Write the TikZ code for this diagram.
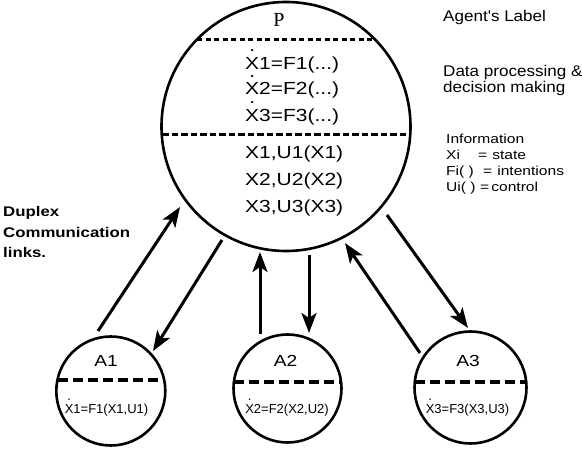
\documentclass[tikz,border=0pt]{standalone}
\usepackage{fontspec}
\setmainfont{Liberation Sans}
\newfontfamily\wide{Liberation Sans}[FakeStretch=1.2]
\newfontfamily\widea{Liberation Sans}[FakeStretch=1.1]
\newfontfamily\serifP{Liberation Serif}
\usetikzlibrary{arrows.meta}
\newcommand\dX{\leavevmode\ooalign{X\cr\hidewidth\smash{\raisebox{1.0em}{.}}\hidewidth\cr}}
\tikzset{
  agent/.style={circle, draw, line width=2.6pt, inner sep=0pt},
  link/.style={line width=3pt, -{Stealth[length=20pt,width=15pt,inset=5pt]}},
  txt/.style={inner sep=0pt, anchor=base west},
  ctxt/.style={inner sep=0pt, anchor=base},
  bigf/.style={font=\wide\fontsize{17.5}{20}\selectfont},
  smallf/.style={font=\fontsize{13}{15}\selectfont},
  labf/.style={font=\wide\fontsize{16}{18}\selectfont},
  notef/.style={font=\widea\fontsize{15.5}{17}\selectfont},
  infof/.style={font=\wide\fontsize{13}{15}\selectfont},
  boldf/.style={font=\wide\bfseries\fontsize{14}{16}\selectfont},
  chord/.style={line width=3pt, dash pattern=on 5pt off 3.5pt},
  chordb/.style={line width=3pt, dash pattern=on 6.5pt off 3pt},
  chordc/.style={line width=3.5pt, dash pattern=on 10pt off 5pt},
}
\begin{document}
\begin{tikzpicture}[x=1pt,y=-1pt]
\useasboundingbox (0,0) rectangle (582,454);
\fill[white] (0,0) rectangle (582,454);

% circles
\node[agent, minimum size=249pt] (P) at (286,126.5) {};
\node[agent, minimum size=109pt] (A1) at (110.8,391) {};
\node[agent, minimum size=108pt] (A2) at (287.5,388.5) {};
\node[agent, minimum size=112pt] (A3) at (470.5,387.5) {};

% chords
\draw[chord] (197,40) -- (372,40);
\draw[chordb] (162,135) -- (410,135);
\draw[chordc] (57.5,380) -- (164,380);
\draw[chordc] (234,382) -- (341,382);
\draw[chordc] (415,382) -- (526,382);

% P texts
\node[ctxt, font=\serifP\fontsize{20}{22}\selectfont] (lp) at (279,27) {P};
\node[txt, bigf] (f1) at (245,69.5) {\dX1=F1(...)};
\node[txt, bigf] (f2) at (245,95) {\dX2=F2(...)};
\node[txt, bigf] (f3) at (245,121.5) {\dX3=F3(...)};
\node[txt, bigf] (u1) at (245,159) {X1,U1(X1)};
\node[txt, bigf] (u2) at (245,186) {X2,U2(X2)};
\node[txt, bigf] (u3) at (245,213) {X3,U3(X3)};

% agent texts
\node[ctxt, labf] (l1) at (106,366.5) {A1};
\node[ctxt, labf] (l2) at (285.5,366.5) {A2};
\node[ctxt, labf] (l3) at (468,366.5) {A3};
\node[ctxt, smallf] (s1) at (106.5,414) {\dX1=F1(X1,U1)};
\node[ctxt, smallf] (s2) at (287,414) {\dX2=F2(X2,U2)};
\node[ctxt, smallf] (s3) at (467.5,414) {\dX3=F3(X3,U3)};

% right notes
\node[txt, notef] (n1) at (443,22) {Agent's Label};
\node[txt, notef] (n2) at (443,77) {Data processing \&};
\node[txt, notef] (n3) at (443,93) {decision making};
\node[txt, infof] (i0) at (446,144) {Information};
\node[txt, infof] (i1) at (446,160) {\makebox[32pt][l]{Xi}=\hspace{5pt}state};
\node[txt, infof] (i2) at (446,176) {\makebox[37pt][l]{Fi(\ )}=\hspace{5pt}intentions};
\node[txt, infof] (i3) at (446,192) {\makebox[34pt][l]{Ui(\ )}=\hspace{2pt}control};

% left note
\node[txt, boldf] (d1) at (3,217) {Duplex};
\node[txt, boldf] (d2) at (3,238) {Communication};
\node[txt, boldf] (d3) at (3,258) {links.};

% link ends
\coordinate (a1s) at (98,331);  \coordinate (a1e) at (180,207);
\coordinate (a2s) at (222,240); \coordinate (a2e) at (153,351);
\coordinate (a3s) at (260,334); \coordinate (a3e) at (260,252);
\coordinate (a4s) at (309,255); \coordinate (a4e) at (309,333);
\coordinate (a5s) at (420,353); \coordinate (a5e) at (345,243);
\coordinate (a6s) at (387,215); \coordinate (a6e) at (468,328);

\draw[link] (a1s) -- (a1e);
\draw[link] (a2s) -- (a2e);
\draw[link] (a3s) -- (a3e);
\draw[link] (a4s) -- (a4e);
\draw[link] (a5s) -- (a5e);
\draw[link] (a6s) -- (a6e);
\end{tikzpicture}
\end{document}
